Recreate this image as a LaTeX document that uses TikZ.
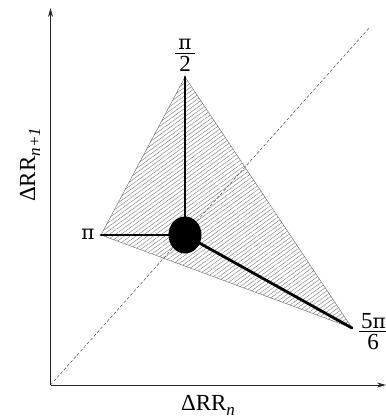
\documentclass[tikz,border=0pt]{standalone}
\usepackage{fontspec}
\setmainfont{Liberation Serif}
\newfontfamily\pifont{DejaVu Serif}
\usetikzlibrary{patterns.meta,arrows.meta}
\newcommand{\mypi}{{\pifont\fontsize{20}{24}\selectfont π}}
\newcommand{\mysub}[1]{\raisebox{-5pt}{\fontsize{17}{19}\selectfont\textit{#1}}}
\begin{document}
\begin{tikzpicture}[x=1pt,y=-1pt,
  axis/.style={line width=0.8pt, draw=black!85, -{Stealth[length=9pt,width=5pt]}},
  spoke/.style={line width=2.8pt, line cap=round},
  lbl/.style={font=\fontsize{23}{26}\selectfont, inner sep=0pt},
  fbar/.style={line width=0.9pt}]
\useasboundingbox (0,0) rectangle (385,419);
\coordinate (O) at (50.5,385);
\coordinate (Ytop) at (50.5,8);
\coordinate (Xend) at (386,385);
\coordinate (Dend) at (370,27);
\coordinate (T) at (185,77);
\coordinate (L) at (101,235);
\coordinate (R) at (352,328);
\coordinate (C) at (185,235);
% triangle
\path[pattern={Lines[angle=36,distance=3.4pt,line width=0.4pt]}, pattern color=black!55] (T) -- (L) -- (R) -- cycle;
\draw[line width=0.4pt, black!60] (T) -- (L) -- (R) -- cycle;
% diagonal
\draw[black!70, line width=0.5pt, dash pattern=on 3pt off 2pt] (O) -- (Dend);
% axes
\draw[axis] (O) -- (Ytop);
\draw[axis] (O) -- (Xend);
% spokes
\draw[spoke] (C) -- (T);
\draw[spoke] (C) -- (L);
\draw[spoke] (C) -- (R);
\fill (C) ellipse [x radius=16.5pt, y radius=18.5pt];
% labels: pi/2
\node[lbl, anchor=base] (tn) at (185,50) {\mypi};
\coordinate (tb1) at (175,53.5);
\coordinate (tb2) at (195,53.5);
\draw[fbar] (tb1) -- (tb2);
\node[lbl, anchor=base] (td) at (185,72) {2};
% pi
\node[lbl, anchor=base] (ll) at (88,239) {\mypi};
% 5pi/6
\node[lbl, anchor=base west] (rn) at (361,328) {5\mypi};
\coordinate (rb1) at (359,331.5);
\coordinate (rb2) at (390,331.5);
\draw[fbar] (rb1) -- (rb2);
\node[lbl, anchor=base] (rd) at (373,349) {6};
% axis labels
\node[lbl, anchor=base] (lx) at (208,410) {ΔRR\mysub{n}};
\node[lbl, rotate=90, anchor=base] (ly) at (35,165) {ΔRR\mysub{n+1}};
\end{tikzpicture}
\end{document}
